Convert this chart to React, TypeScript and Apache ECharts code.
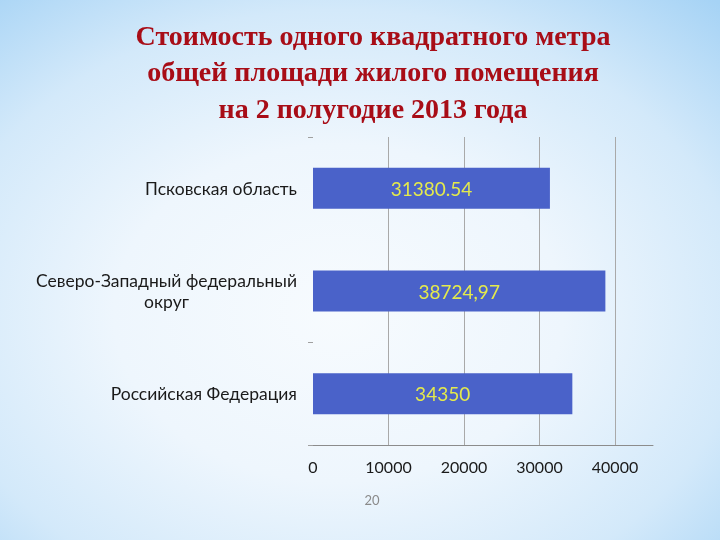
import React, { useEffect, useRef } from "react";
import * as echarts from "echarts";

const categories = [
  "Псковская область",
  "Северо-Западный федеральный округ",
  "Российская Федерация",
];
const values = [31380.54, 38724.97, 34350];
const valueLabels = ["31380.54", "38724,97", "34350"];
const xTicks = [0, 10000, 20000, 30000, 40000];
const titleText = "Стоимость одного квадратного метра\nобщей площади жилого помещения\nна 2 полугодие 2013 года";
const pageNumber = "20";

const FONT = "Lato, 'Open Sans', sans-serif";

export default function App() {
  const ref = useRef<HTMLDivElement>(null);
  useEffect(() => {
    if (!ref.current) return;
    const chart = echarts.init(ref.current, null, { renderer: "svg" });
    const gridTop = 137;
    const gridHeight = 308;
    chart.setOption({
      animation: false,
      backgroundColor: new echarts.graphic.RadialGradient(0.47, 0.58, 0.78, [
        { offset: 0, color: "#f7fbfe" },
        { offset: 0.4, color: "#eef6fd" },
        { offset: 0.72, color: "#d3e9fa" },
        { offset: 1, color: "#a6d3f5" },
      ]),
      title: {
        text: titleText,
        left: 373,
        top: 17,
        padding: 0,
        textAlign: "center",
        textStyle: {
          fontFamily: "'Liberation Serif', 'DejaVu Serif', serif",
          fontWeight: "bold",
          fontSize: 28,
          lineHeight: 36.5,
          color: "#a80d17",
        },
      },
      graphic: [
        {
          type: "text",
          x: 372,
          y: 500,
          style: {
            text: pageNumber,
            fontFamily: FONT,
            fontSize: 13,
            fill: "#8a8a8a",
            align: "center",
            verticalAlign: "middle",
          },
        },
      ],
      grid: [
        { left: 313, right: 67, top: gridTop, height: gridHeight, containLabel: false },
        { left: 313, right: 105, top: gridTop, height: gridHeight, containLabel: false },
      ],
      xAxis: [
        {
          gridIndex: 0,
          type: "value",
          min: 0,
          max: 45000,
          axisLine: { show: true, lineStyle: { color: "#8c8c8c", width: 1 } },
          axisTick: { show: false },
          axisLabel: { show: false },
          splitLine: { show: false },
        },
        {
          gridIndex: 1,
          type: "value",
          min: xTicks[0],
          max: xTicks[xTicks.length - 1],
          interval: 10000,
          axisLine: { show: false },
          axisTick: { show: false },
          axisLabel: {
            show: true,
            margin: 13,
            fontFamily: FONT,
            fontSize: 16,
            color: "#1a1a1a",
            formatter: (v: number) => String(v),
          },
          splitLine: {
            show: true,
            showMinLine: false,
            lineStyle: { color: "#a9a9a9", width: 1 },
          },
        },
      ],
      yAxis: [
        {
          gridIndex: 0,
          type: "category",
          data: categories,
          inverse: true,
          axisLine: { show: false },
          axisTick: { show: false },
          axisLabel: { show: false },
          splitLine: { show: false },
        },
        {
          gridIndex: 1,
          type: "category",
          data: categories,
          inverse: true,
          axisLine: { show: false },
          axisTick: {
            show: true,
            length: 5,
            interval: (i: number) => i === 0 || i === 2,
            lineStyle: { color: "#a0a0a0" },
          },
          axisLabel: {
            margin: 16,
            fontFamily: FONT,
            fontSize: 17.5,
            color: "#1a1a1a",
            lineHeight: 21,
            formatter: (v: string) => {
              if (v === categories[1]) {
                return "{a|Северо-Западный федеральный}\n{c|округ}";
              }
              return v;
            },
            rich: {
              a: { fontFamily: FONT, fontSize: 17.5, color: "#1a1a1a", lineHeight: 21 },
              c: { fontFamily: FONT, fontSize: 17.5, color: "#1a1a1a", lineHeight: 21, align: "center" },
            },
          },
        },
      ],
      series: [
        {
          type: "bar",
          xAxisIndex: 1,
          yAxisIndex: 1,
          data: values,
          barWidth: "40%",
          itemStyle: { color: "#4a62c9" },
          label: {
            show: true,
            position: "inside",
            formatter: (p: any) => valueLabels[p.dataIndex],
            fontFamily: FONT,
            fontSize: 19,
            color: "#e4ea4c",
          },
        },
      ],
    });
    return () => chart.dispose();
  }, []);
  return (
    <div
      ref={ref}
      style={{ position: "fixed", left: 0, top: 0, width: 720, height: 540 }}
    />
  );
}
